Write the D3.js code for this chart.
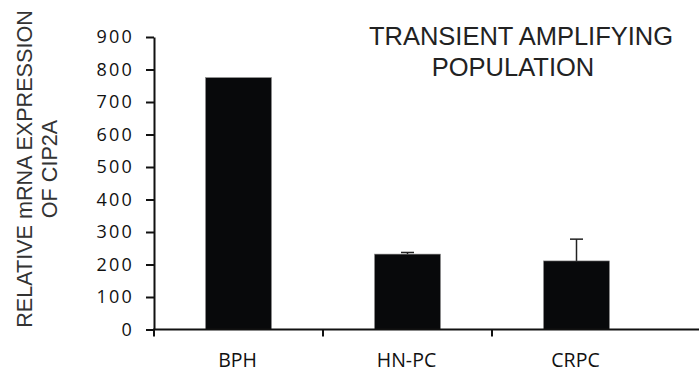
<!DOCTYPE html>
<html>
<head>
<meta charset="utf-8">
<script src="https://cdn.jsdelivr.net/npm/d3@7"></script>
<style>
  body { margin: 0; background: #fff; }
  svg { display: block; }
</style>
</head>
<body>
<script>
// CIP2A expression, transient amplifying population

var categories = ["BPH", "HN-PC", "CRPC"];
var values = [775, 232, 211];
var errors = [0, 5, 67];
var yTicks = [0, 100, 200, 300, 400, 500, 600, 700, 800, 900];
var titleLines = ["TRANSIENT AMPLIFYING", "POPULATION"];
var yTitleLines = ["RELATIVE mRNA EXPRESSION", "OF CIP2A"];

var width = 699, height = 371;
var x0 = 154, step = 169, yTop = 37, yBottom = 329.5;

var svg = d3.select("body").append("svg")
    .attr("width", width)
    .attr("height", height);

var x = d3.scaleBand()
    .domain(categories)
    .range([x0, x0 + step * categories.length])
    .paddingInner(0.61)
    .paddingOuter(0.305);

var y = d3.scaleLinear()
    .domain([0, 900])
    .range([yBottom, yTop]);

// bars
svg.selectAll("rect.bar")
  .data(categories)
  .enter().append("rect")
    .attr("class", "bar")
    .attr("x", function(d) { return x(d); })
    .attr("y", function(d, i) { return y(values[i]); })
    .attr("width", x.bandwidth())
    .attr("height", function(d, i) { return y(0) - y(values[i]); })
    .style("fill", "#08090b")
    .style("stroke", "#888")
    .style("stroke-width", 0.6);

// error bars (upper only)
var err = svg.selectAll("g.err")
  .data(categories.filter(function(d, i) { return errors[i] > 0; }))
  .enter().append("g")
    .attr("class", "err");

function barMid(d) { return x(d) + x.bandwidth() / 2; }
function errTop(d) { var i = categories.indexOf(d); return y(values[i] + errors[i]); }

err.append("line")
    .attr("x1", barMid)
    .attr("x2", barMid)
    .attr("y1", function(d) { return y(values[categories.indexOf(d)]); })
    .attr("y2", errTop)
    .style("stroke", "#222")
    .style("stroke-width", 1.5);

err.append("line")
    .attr("x1", function(d) { return barMid(d) - 6.5; })
    .attr("x2", function(d) { return barMid(d) + 6.5; })
    .attr("y1", errTop)
    .attr("y2", errTop)
    .style("stroke", "#222")
    .style("stroke-width", 1.5);

// y axis
var yAxis = svg.append("g")
    .attr("transform", "translate(" + x0 + ",0)")
    .call(d3.axisLeft(y).tickValues(yTicks).tickSizeOuter(0).tickSizeInner(8).tickPadding(12));

yAxis.select(".domain").style("stroke", "#111").style("stroke-width", 2);
yAxis.selectAll(".tick line").style("stroke", "#111").style("stroke-width", 2);
yAxis.selectAll(".tick text")
    .attr("font-family", "'Open Sans', sans-serif")
    .attr("font-size", 18)
    .style("letter-spacing", "2.2px")
    .style("fill", "#111");

// x axis: ticks at category boundaries, line runs to the right edge
svg.append("line")
    .attr("x1", x0 - 1)
    .attr("x2", width)
    .attr("y1", yBottom)
    .attr("y2", yBottom)
    .style("stroke", "#111")
    .style("stroke-width", 2);

svg.selectAll("line.xtick")
  .data(categories)
  .enter().append("line")
    .attr("class", "xtick")
    .attr("x1", function(d) { return x(d) - x.step() * x.paddingOuter(); })
    .attr("x2", function(d) { return x(d) - x.step() * x.paddingOuter(); })
    .attr("y1", yBottom)
    .attr("y2", yBottom + 7)
    .style("stroke", "#111")
    .style("stroke-width", 2);

svg.selectAll("text.xlabel")
  .data(categories)
  .enter().append("text")
    .attr("class", "xlabel")
    .attr("x", function(d) { return barMid(d) - 1; })
    .attr("y", 366.5)
    .attr("text-anchor", "middle")
    .style("font-family", "'Open Sans', sans-serif")
    .style("font-size", "19.5px")
    .style("fill", "#111")
    .text(function(d) { return d; });

// chart title
svg.selectAll("text.title")
  .data(titleLines)
  .enter().append("text")
    .attr("class", "title")
    .attr("x", function(d, i) { return i === 0 ? 521 : 513; })
    .attr("y", function(d, i) { return 45 + i * 31; })
    .attr("text-anchor", "middle")
    .style("font-family", "'Liberation Sans', Arial, sans-serif")
    .style("font-size", "25.5px")
    .style("fill", "#222")
    .text(function(d) { return d; });

// y axis title
svg.selectAll("text.ytitle")
  .data(yTitleLines)
  .enter().append("text")
    .attr("class", "ytitle")
    .attr("transform", function(d, i) {
      return "translate(" + (31.5 + i * 25) + ",169) rotate(-90)";
    })
    .attr("text-anchor", "middle")
    .style("font-family", "'Liberation Sans', Arial, sans-serif")
    .style("font-size", "21.6px")
    .style("fill", "#333")
    .text(function(d) { return d; });
</script>
</body>
</html>
